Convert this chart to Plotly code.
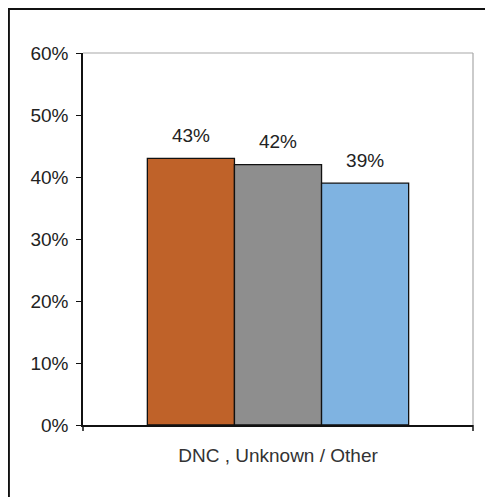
import plotly.graph_objects as go

category = ["DNC , Unknown / Other"]
series_names = ["Series A", "Series B", "Series C"]
series_values = [[0.43], [0.42], [0.39]]
series_colors = ["#BF6229", "#8E8E8E", "#7FB3E1"]
y_ticks = [0, 0.1, 0.2, 0.3, 0.4, 0.5, 0.6]
y_tick_labels = ["0%", "10%", "20%", "30%", "40%", "50%", "60%"]

FONT = "Liberation Sans, Arial, sans-serif"
FS = 19

fig = go.Figure()
for i, (name, vals, col) in enumerate(zip(series_names, series_values, series_colors)):
    fig.add_trace(go.Bar(
        x=category, y=vals, name=name, offsetgroup=str(i),
        marker=dict(color=col, line=dict(color="#111111", width=1.3)),
    ))
for i, (name, vals) in enumerate(zip(series_names, series_values)):
    fig.add_trace(go.Scatter(
        x=category, y=vals, name=name, offsetgroup=str(i),
        mode="markers+text", text=[f"{round(v*100)}%" for v in vals],
        textposition="top center",
        marker=dict(size=17, color="rgba(0,0,0,0)"),
        textfont=dict(family=FONT, size=FS, color="#222222"),
        cliponaxis=False, hoverinfo="skip",
    ))

fig.update_layout(
    width=485, height=489,
    margin=dict(l=75, r=20, t=45, b=72),
    paper_bgcolor="white", plot_bgcolor="white",
    barmode="group", bargap=0.33, bargroupgap=0,
    scattermode="group", scattergap=0.33,
    showlegend=False,
    font=dict(family=FONT, size=FS, color="#222222"),
    xaxis=dict(showline=True, linecolor="#111111", linewidth=1.5, ticks="",
               showgrid=False, ticklabelstandoff=12,
               tickfont=dict(family=FONT, size=FS, color="#333333")),
    yaxis=dict(range=[0, 0.6], tickvals=y_ticks, ticktext=y_tick_labels,
               showline=True, linecolor="#111111", linewidth=1.5,
               ticks="outside", ticklen=5, tickcolor="#111111",
               showgrid=False, zeroline=False, ticklabelstandoff=4,
               tickfont=dict(family=FONT, size=FS, color="#222222")),
    shapes=[
        dict(type="line", xref="paper", yref="paper", x0=0, x1=1, y0=1, y1=1,
             line=dict(color="#A8A8A8", width=1.2)),
        dict(type="line", xref="paper", yref="paper", x0=1, x1=1, y0=0, y1=1,
             line=dict(color="#A8A8A8", width=1.2)),
        dict(type="line", xref="paper", yref="paper", x0=1, x1=1, y0=0, y1=-0.016,
             line=dict(color="#111111", width=1.5)),
        dict(type="line", xref="paper", yref="paper", x0=0, x1=0, y0=0, y1=-0.016,
             line=dict(color="#111111", width=1.5)),
        dict(type="rect", xref="paper", yref="paper", x0=-0.19, x1=1.0385,
             y0=-0.223, y1=1.118, line=dict(color="#111111", width=2)),
    ],
)

fig.write_html("out.html")
